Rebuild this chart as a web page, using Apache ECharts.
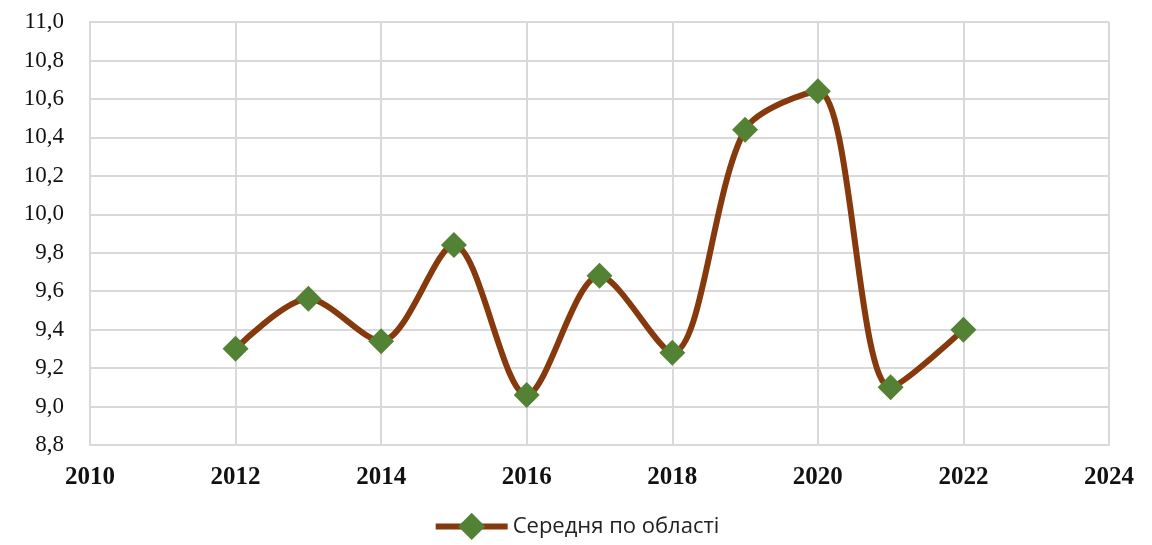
<!DOCTYPE html>
<html>
<head>
<meta charset="utf-8">
<script src="https://cdn.jsdelivr.net/npm/echarts@6/dist/echarts.min.js"></script>
<style>
  html, body { margin: 0; padding: 0; background: #fff; }
  #main { width: 1152px; height: 545px; }
</style>
</head>
<body>
<div id="main"></div>
<script>
// дані графіка
const years = [2012, 2013, 2014, 2015, 2016, 2017, 2018, 2019, 2020, 2021, 2022];
const values = [9.30, 9.56, 9.34, 9.84, 9.06, 9.68, 9.28, 10.44, 10.64, 9.10, 9.40];
const seriesName = 'Середня по області';

const chart = echarts.init(document.getElementById('main'));

const gridLine = { show: true, lineStyle: { color: '#d9d9d9', width: 2 } };

chart.setOption({
  backgroundColor: '#fff',
  animation: false,
  grid: { left: 90, right: 43, top: 22, bottom: 100 },
  xAxis: {
    type: 'value',
    min: 2010,
    max: 2024,
    interval: 2,
    axisLine: { show: true, lineStyle: { color: '#d9d9d9', width: 2 } },
    axisTick: { show: false },
    splitLine: gridLine,
    axisLabel: {
      margin: 20,
      color: '#111',
      fontFamily: 'Liberation Serif',
      fontWeight: 'bold',
      fontSize: 25,
      formatter: v => String(v)
    }
  },
  yAxis: {
    type: 'value',
    min: 8.8,
    max: 11.0,
    interval: 0.2,
    axisLine: { show: true, lineStyle: { color: '#d9d9d9', width: 2 } },
    axisTick: { show: false },
    splitLine: gridLine,
    axisLabel: {
      margin: 26,
      color: '#111',
      fontFamily: 'Liberation Serif',
      fontSize: 23,
      formatter: v => v.toFixed(1).replace('.', ',')
    }
  },
  legend: {
    bottom: 0,
    left: 'center',
    itemWidth: 72,
    itemHeight: 34,
    itemGap: 10,
    lineStyle: { width: 6 },
    textStyle: { fontFamily: 'Open Sans', fontSize: 22, color: '#222' },
    data: [seriesName]
  },
  series: [{
    name: seriesName,
    type: 'line',
    data: years.map((y, i) => [y, values[i]]),
    smooth: 0.3,
    symbol: 'diamond',
    symbolSize: 26,
    lineStyle: { color: '#86390c', width: 6 },
    itemStyle: { color: '#548235' },
    z: 3
  }]
});
</script>
</body>
</html>
